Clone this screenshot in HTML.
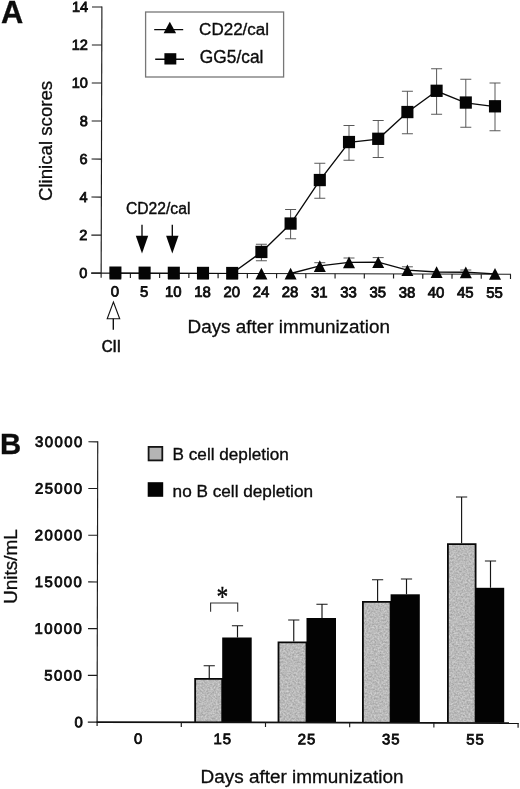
<!DOCTYPE html>
<html><head><meta charset="utf-8"><title>Figure</title>
<style>
html,body{margin:0;padding:0;background:#fff}
svg{display:block}
text{font-family:"Liberation Sans",sans-serif;fill:#0c0c0c;stroke:#0c0c0c;stroke-width:.35px}
.t15{font-size:14.9px;stroke-width:.8px}
.t155{font-size:15.8px;stroke-width:.4px}
.t17{font-size:17.3px;stroke-width:.35px}
.t18{font-size:18.6px;stroke-width:.3px}
.pl{font-size:30px;font-weight:bold;stroke-width:.3px}
.ax{fill:none;stroke:#1c1c1c;stroke-width:1.15}
.ax2{fill:none;stroke:#111;stroke-width:1.8}
.ln{fill:none;stroke:#0a0a0a;stroke-width:1.35}
.eb{fill:none;stroke:#505050;stroke-width:.95}
.eb2{fill:none;stroke:#161616;stroke-width:1.15}
.mk{fill:#050505;stroke:none}
</style></head>
<body>
<svg width="520" height="789" viewBox="0 0 520 789">
<defs>
<filter id="nz" x="0" y="0" width="1" height="1" color-interpolation-filters="sRGB">
<feTurbulence type="fractalNoise" baseFrequency="0.55" numOctaves="2" seed="7" result="n"/>
<feColorMatrix in="n" type="matrix" values="0.3 0 0 0 0.58  0.3 0 0 0 0.58  0.3 0 0 0 0.58  0 0 0 0 1" result="g"/>
<feComposite in="g" in2="SourceGraphic" operator="in"/>
</filter>
</defs>
<rect width="520" height="789" fill="#fff"/>
<g id="panelA">
<g transform="rotate(0.16 101.15 273.1)">
<path d="M101.15 6.4V277.8" class="ax"/>
<path d="M91.25 273.1H511.01" class="ax"/>
<path d="M91.25 273.10H101.15" class="ax"/>
<path d="M91.25 235.09H101.15" class="ax"/>
<path d="M91.25 197.07H101.15" class="ax"/>
<path d="M91.25 159.06H101.15" class="ax"/>
<path d="M91.25 121.04H101.15" class="ax"/>
<path d="M91.25 83.03H101.15" class="ax"/>
<path d="M91.25 45.01H101.15" class="ax"/>
<path d="M91.25 7.00H101.15" class="ax"/>
<path d="M130.39 273.1V277.8" class="ax"/>
<path d="M159.63 273.1V277.8" class="ax"/>
<path d="M188.87 273.1V277.8" class="ax"/>
<path d="M218.11 273.1V277.8" class="ax"/>
<path d="M247.35 273.1V277.8" class="ax"/>
<path d="M276.59 273.1V277.8" class="ax"/>
<path d="M305.83 273.1V277.8" class="ax"/>
<path d="M335.07 273.1V277.8" class="ax"/>
<path d="M364.31 273.1V277.8" class="ax"/>
<path d="M393.55 273.1V277.8" class="ax"/>
<path d="M422.79 273.1V277.8" class="ax"/>
<path d="M452.03 273.1V277.8" class="ax"/>
<path d="M481.27 273.1V277.8" class="ax"/>
<path d="M510.51 273.1V277.8" class="ax"/>
<text x="87.3" y="278.00" text-anchor="end" class="t15" style="font-size:14.5px">0</text>
<text x="87.3" y="239.99" text-anchor="end" class="t15" style="font-size:14.5px">2</text>
<text x="87.3" y="201.97" text-anchor="end" class="t15" style="font-size:14.5px">4</text>
<text x="87.3" y="163.96" text-anchor="end" class="t15" style="font-size:14.5px">6</text>
<text x="87.3" y="125.94" text-anchor="end" class="t15" style="font-size:14.5px">8</text>
<text x="87.3" y="87.93" text-anchor="end" class="t15" style="font-size:14.5px">10</text>
<text x="87.3" y="49.91" text-anchor="end" class="t15" style="font-size:14.5px">12</text>
<text x="87.3" y="11.90" text-anchor="end" class="t15" style="font-size:14.5px">14</text>
<text x="115.00" y="296.6" text-anchor="middle" class="t15">0</text>
<text x="144.20" y="296.6" text-anchor="middle" class="t15">5</text>
<text x="173.40" y="296.6" text-anchor="middle" class="t15">10</text>
<text x="202.60" y="296.6" text-anchor="middle" class="t15">18</text>
<text x="231.80" y="296.6" text-anchor="middle" class="t15">20</text>
<text x="261.00" y="296.6" text-anchor="middle" class="t15">24</text>
<text x="290.20" y="296.6" text-anchor="middle" class="t15">28</text>
<text x="319.40" y="296.6" text-anchor="middle" class="t15">31</text>
<text x="348.60" y="296.6" text-anchor="middle" class="t15">33</text>
<text x="377.80" y="296.6" text-anchor="middle" class="t15">35</text>
<text x="407.00" y="296.6" text-anchor="middle" class="t15">38</text>
<text x="436.20" y="296.6" text-anchor="middle" class="t15">40</text>
<text x="465.40" y="296.6" text-anchor="middle" class="t15">45</text>
<text x="494.60" y="296.6" text-anchor="middle" class="t15">55</text>
</g>
<path d="M261.40 244.25V260.75M255.90 244.25h11M255.90 260.75h11" class="eb"/>
<path d="M290.60 209.50V238.75M285.10 209.50h11M285.10 238.75h11" class="eb"/>
<path d="M319.80 163.25V198.25M314.30 163.25h11M314.30 198.25h11" class="eb"/>
<path d="M349.00 125.50V160.25M343.50 125.50h11M343.50 160.25h11" class="eb"/>
<path d="M378.20 120.50V157.50M372.70 120.50h11M372.70 157.50h11" class="eb"/>
<path d="M407.40 91.25V133.75M401.90 91.25h11M401.90 133.75h11" class="eb"/>
<path d="M436.60 68.75V114.25M431.10 68.75h11M431.10 114.25h11" class="eb"/>
<path d="M465.80 79.25V127.25M460.30 79.25h11M460.30 127.25h11" class="eb"/>
<path d="M495.00 83.00V130.75M489.50 83.00h11M489.50 130.75h11" class="eb"/>
<path d="M319.80 262.70V266.20M314.30 262.70h11" class="eb"/>
<path d="M349.00 258.00V262.60M343.50 258.00h11" class="eb"/>
<path d="M378.20 257.60V262.40M372.70 257.60h11" class="eb"/>
<path d="M407.40 266.80V270.40M401.90 266.80h11" class="eb"/>
<path d="M465.80 270.00V272.50M460.30 270.00h11" class="eb"/>
<polyline points="290.60,273.50 319.80,265.95 349.00,262.35 378.20,262.15 407.40,270.15 436.60,272.00 465.80,272.25 495.00,273.85" class="ln"/>
<path d="M115.4 273.15L232.2 273.45" class="ln" style="stroke-width:1.1"/>
<polyline points="232.20,273.30 261.40,252.20 290.60,223.80 319.80,180.30 349.00,142.30 378.20,139.05 407.40,112.30 436.60,91.05 465.80,102.80 495.00,106.55" class="ln"/>
<path d="M115.40 267.75L121.40 279.45H109.40Z" class="mk"/>
<path d="M144.60 267.75L150.60 279.45H138.60Z" class="mk"/>
<path d="M173.80 267.75L179.80 279.45H167.80Z" class="mk"/>
<path d="M203.00 267.75L209.00 279.45H197.00Z" class="mk"/>
<path d="M232.20 267.75L238.20 279.45H226.20Z" class="mk"/>
<path d="M261.40 267.75L267.40 279.45H255.40Z" class="mk"/>
<path d="M290.60 267.75L296.60 279.45H284.60Z" class="mk"/>
<path d="M319.80 260.20L325.80 271.90H313.80Z" class="mk"/>
<path d="M349.00 256.60L355.00 268.30H343.00Z" class="mk"/>
<path d="M378.20 256.40L384.20 268.10H372.20Z" class="mk"/>
<path d="M407.40 264.40L413.40 276.10H401.40Z" class="mk"/>
<path d="M436.60 266.25L442.60 277.95H430.60Z" class="mk"/>
<path d="M465.80 266.50L471.80 278.20H459.80Z" class="mk"/>
<path d="M495.00 268.10L501.00 279.80H489.00Z" class="mk"/>
<rect x="109.35" y="266.50" width="12.1" height="12.3" class="mk"/>
<rect x="138.55" y="266.60" width="12.1" height="12.3" class="mk"/>
<rect x="167.75" y="266.70" width="12.1" height="12.3" class="mk"/>
<rect x="196.95" y="266.80" width="12.1" height="12.3" class="mk"/>
<rect x="226.15" y="266.90" width="12.1" height="12.3" class="mk"/>
<rect x="255.35" y="245.80" width="12.1" height="12.3" class="mk"/>
<rect x="284.55" y="217.40" width="12.1" height="12.3" class="mk"/>
<rect x="313.75" y="173.90" width="12.1" height="12.3" class="mk"/>
<rect x="342.95" y="135.90" width="12.1" height="12.3" class="mk"/>
<rect x="372.15" y="132.65" width="12.1" height="12.3" class="mk"/>
<rect x="401.35" y="105.90" width="12.1" height="12.3" class="mk"/>
<rect x="430.55" y="84.65" width="12.1" height="12.3" class="mk"/>
<rect x="459.75" y="96.40" width="12.1" height="12.3" class="mk"/>
<rect x="488.95" y="100.15" width="12.1" height="12.3" class="mk"/>
<rect x="145.6" y="12" width="138" height="65" fill="#fff" stroke="#777" stroke-width="1.3"/>
<path d="M154.2 29.6H183.2M155.2 59.2H184" class="ln"/>
<path d="M169.8 21.7L176.1 33.3H163.6Z" class="mk"/>
<rect x="164.4" y="53.2" width="11.9" height="11.3" class="mk"/>
<text x="199.1" y="35.4" class="t17" textLength="70" lengthAdjust="spacingAndGlyphs">CD22/cal</text>
<text x="199.8" y="63.4" class="t17" style="font-size:17.8px" textLength="63.6" lengthAdjust="spacingAndGlyphs">GG5/cal</text>
<text x="126" y="213.7" class="t155" textLength="64.4" lengthAdjust="spacingAndGlyphs">CD22/cal</text>
<path d="M142 224.7V237" class="ln"/><path d="M135.8 235.7H148.2L142 253.6Z" class="mk"/>
<path d="M172.3 224.7V237" class="ln"/><path d="M166.10000000000002 235.7H178.5L172.3 253.6Z" class="mk"/>
<path d="M113.4 302L119.7 318.8H107.2Z" fill="#fff" stroke="#111" stroke-width="1.1" stroke-linejoin="miter"/>
<path d="M113.3 318.8V329.8" class="ln"/>
<text x="101.7" y="351.6" style="font-size:15.6px;stroke-width:.6px" textLength="19.2" lengthAdjust="spacingAndGlyphs">CII</text>
<text x="187.5" y="333.4" class="t18" style="font-size:18.9px" textLength="202.5" lengthAdjust="spacingAndGlyphs">Days after immunization</text>
<text transform="translate(52.2 201.1) rotate(-90)" class="t18" style="font-size:19px" textLength="120.3" lengthAdjust="spacingAndGlyphs">Clinical scores</text>
<text x="1.0" y="22.7" class="pl" style="font-size:30.8px">A</text>
</g>
<g id="panelB">
<path d="M209.25 678V665.75M203.65 665.75h11.2" class="eb2"/>
<path d="M237.50 637.5V625.75M231.90 625.75h11.2" class="eb2"/>
<rect x="195.00" y="678.75" width="27.20" height="43.85" fill="#c6c6c6" filter="url(#nz)"/>
<path d="M195.15 722.6V678.85H222.20V722.6" fill="none" stroke="#080808" stroke-width="1.8"/>
<rect x="222.2" y="637.5" width="29.50" height="85.30" fill="#030303"/>
<path d="M293.75 641.6V620M288.15 620h11.2" class="eb2"/>
<path d="M322.00 618V604.25M316.40 604.25h11.2" class="eb2"/>
<rect x="278.35" y="642.35" width="28.15" height="80.25" fill="#c6c6c6" filter="url(#nz)"/>
<path d="M278.50 722.6V642.45H306.50V722.6" fill="none" stroke="#080808" stroke-width="1.8"/>
<rect x="306.5" y="618" width="29.50" height="104.80" fill="#030303"/>
<path d="M377.60 601V579.75M372.00 579.75h11.2" class="eb2"/>
<path d="M406.50 594.3V579M400.90 579h11.2" class="eb2"/>
<rect x="362.75" y="601.75" width="27.85" height="120.85" fill="#c6c6c6" filter="url(#nz)"/>
<path d="M362.90 722.6V601.85H390.60V722.6" fill="none" stroke="#080808" stroke-width="1.8"/>
<rect x="390.6" y="594.3" width="29.20" height="128.50" fill="#030303"/>
<path d="M461.60 543.3V497M456.00 497h11.2" class="eb2"/>
<path d="M490.50 587.8V561M484.90 561h11.2" class="eb2"/>
<rect x="447.75" y="544.05" width="27.85" height="178.55" fill="#c6c6c6" filter="url(#nz)"/>
<path d="M447.90 722.6V544.15H475.60V722.6" fill="none" stroke="#080808" stroke-width="1.8"/>
<rect x="475.6" y="587.8" width="28.60" height="135.00" fill="#030303"/>
<g transform="rotate(0.13 97.1 722.1)">
<path d="M97.1 441.3V725.9" class="ax"/>
<path d="M96.6 722.1H518.6" class="ax2"/>
<path d="M87.8 722.10H97.1" class="ax"/>
<text x="82.8" y="727.30" text-anchor="end" class="t15" >0</text>
<path d="M87.8 675.38H97.1" class="ax"/>
<text x="81.6" y="680.58" text-anchor="end" class="t15" textLength="37.5" lengthAdjust="spacing">5000</text>
<path d="M87.8 628.67H97.1" class="ax"/>
<text x="81.6" y="633.87" text-anchor="end" class="t15" textLength="47.2" lengthAdjust="spacing">10000</text>
<path d="M87.8 581.95H97.1" class="ax"/>
<text x="81.6" y="587.15" text-anchor="end" class="t15" textLength="47.2" lengthAdjust="spacing">15000</text>
<path d="M87.8 535.23H97.1" class="ax"/>
<text x="81.6" y="540.43" text-anchor="end" class="t15" textLength="47.2" lengthAdjust="spacing">20000</text>
<path d="M87.8 488.52H97.1" class="ax"/>
<text x="81.6" y="493.72" text-anchor="end" class="t15" textLength="47.2" lengthAdjust="spacing">25000</text>
<path d="M87.8 441.80H97.1" class="ax"/>
<text x="81.6" y="447.00" text-anchor="end" class="t15" textLength="47.2" lengthAdjust="spacing">30000</text>
<path d="M181.30 722.1V726.7" class="ax"/>
<path d="M265.50 722.1V726.7" class="ax"/>
<path d="M349.70 722.1V726.7" class="ax"/>
<path d="M433.90 722.1V726.7" class="ax"/>
<path d="M518.10 722.1V726.7" class="ax"/>
<text x="138.20" y="743.7" text-anchor="middle" class="t15" >0</text>
<text x="222.40" y="743.7" text-anchor="middle" class="t15" textLength="17.5" lengthAdjust="spacing">15</text>
<text x="306.60" y="743.7" text-anchor="middle" class="t15" textLength="17.5" lengthAdjust="spacing">25</text>
<text x="390.80" y="743.7" text-anchor="middle" class="t15" textLength="17.5" lengthAdjust="spacing">35</text>
<text x="475.00" y="743.7" text-anchor="middle" class="t15" textLength="17.5" lengthAdjust="spacing">55</text>
</g>
<path d="M210.6 611.8V603H237.7V611.8" fill="none" stroke="#333" stroke-width="1.1"/>
<text transform="translate(222.5 605.5) scale(0.98 1.25)" text-anchor="middle" style="font-family:'Liberation Serif',serif;font-size:24px;stroke-width:.3px">*</text>
<rect x="148.6" y="446.9" width="13.7" height="13.5" fill="#b4b4b4"/>
<rect x="148.6" y="446.9" width="13.7" height="13.5" fill="none" stroke="#141414" stroke-width="1.8"/>
<rect x="147.7" y="482.2" width="15.5" height="14.6" fill="#030303"/>
<text x="172.6" y="460.1" class="t17" textLength="116.3" lengthAdjust="spacingAndGlyphs">B cell depletion</text>
<text x="172.6" y="497.3" class="t17" textLength="140.4" lengthAdjust="spacingAndGlyphs">no B cell depletion</text>
<text x="200.6" y="783.2" class="t18" style="font-size:18.9px" textLength="203" lengthAdjust="spacingAndGlyphs">Days after immunization</text>
<text transform="translate(17.3 603.9) rotate(-90)" class="t18" style="font-size:18.8px" textLength="74.8" lengthAdjust="spacingAndGlyphs">Units/mL</text>
<text x="0" y="454.1" class="pl" style="font-size:29.3px">B</text>
</g>
</svg>
</body></html>
